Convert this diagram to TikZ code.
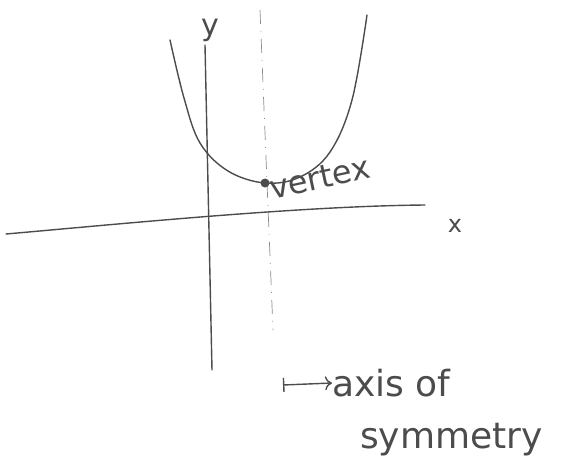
\documentclass[tikz,border=0pt]{standalone}
\usepackage{fontspec}
\setmainfont{DejaVu Sans}
\usetikzlibrary{calc,positioning,arrows.meta}
\colorlet{pen}{black!70}
\tikzset{
  pencil/.style={draw=pen,line width=1.4pt,line cap=round,line join=round},
  scrawl/.style={text=pen,inner sep=0pt},
  symaxis/.style={draw=black!45,line width=0.7pt,dash pattern=on 14pt off 7pt on 1pt off 7pt},
}

\begin{document}
\begin{tikzpicture}[x=1pt,y=-1pt]
\useasboundingbox (0,0) rectangle (576,475);
% axes
\coordinate (xleft) at (6,234);
\coordinate (xright) at (425,205);
\coordinate (ytop) at (205,45);
\coordinate (ybot) at (212,370);
\draw[pencil] (xleft) .. controls (120,224) and (300,206) .. (xright);
\draw[pencil] (ytop) -- (ybot);
\node[scrawl,font=\fontsize{30}{30}\selectfont] (ylbl) at (210,30) {y};
\node[scrawl,font=\fontsize{24}{24}\selectfont] (xlbl) at (455,226) {x};
% axis of symmetry
\coordinate (symtop) at (260,10);
\coordinate (symbot) at (273,330);
\draw[symaxis] (symtop) -- (symbot);
% parabola
\draw[pencil] plot[smooth,tension=0.6] coordinates
  {(170,40) (184,98) (200,143) (228,171) (265,183) (300,177) (330,152) (352,100) (367,15)};
\coordinate (vtx) at (265,183);
\fill[pen] (vtx) circle (4.5pt);
\node[scrawl,font=\fontsize{32}{32}\selectfont,rotate=12,anchor=south west] (vlbl) at (272,200) {vertex};
% label
\coordinate (arrstart) at (283,385);
\node[scrawl,font=\fontsize{36}{36}\selectfont,anchor=west] (axlbl) at (332,383) {axis of};
\node[scrawl,font=\fontsize{36}{36}\selectfont,anchor=base west] (symlbl) at (360,448) {symmetry};
\draw[pencil,{Bar[width=14pt]}-{To[length=7pt,width=14pt]}] (arrstart) -- (axlbl.west);
\end{tikzpicture}
\end{document}
